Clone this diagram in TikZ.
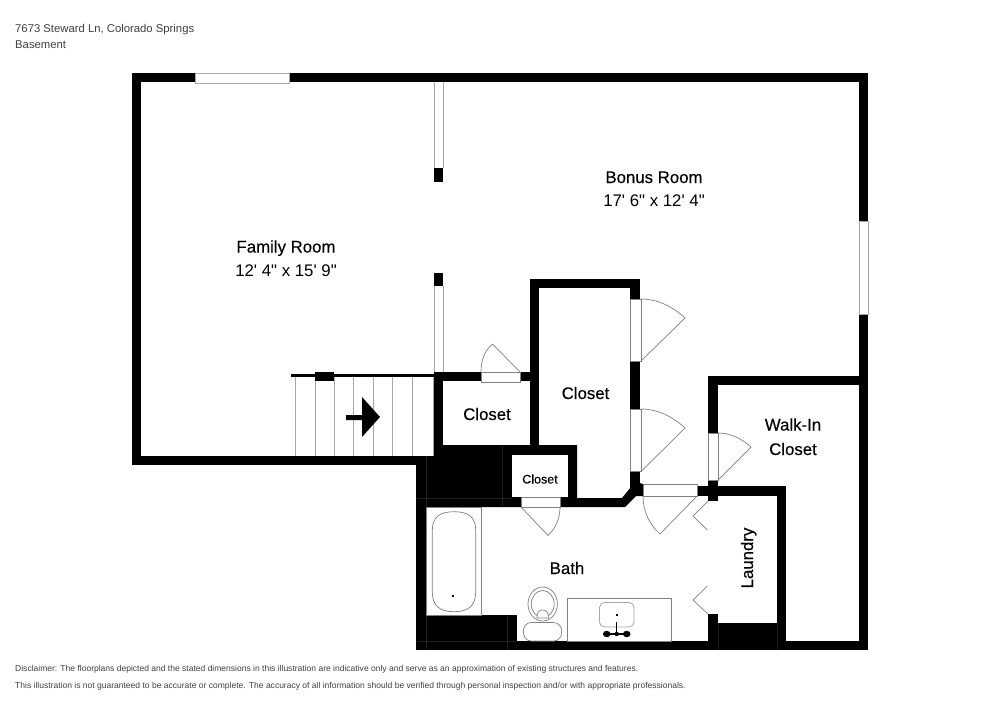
\documentclass[tikz,border=0pt]{standalone}
\usepackage{fontspec}
\newfontfamily\plainsans{Liberation Sans}
\newfontfamily\roomsans{Liberation Sans}[FakeBold=0.2]
\definecolor{doorgray}{gray}{0.5}
\definecolor{lightgray2}{gray}{0.65}
\definecolor{seam}{gray}{0.13}
\tikzset{
  wall/.style={fill=black,draw=none},
  seamline/.style={draw=seam,line width=0.3pt},
  doorleaf/.style={fill=white,draw=doorgray,line width=0.8pt},
  swing/.style={draw=doorgray,line width=0.7pt},
  glass/.style={fill=white,draw=lightgray2,line width=1pt},
  fixture/.style={draw=doorgray,line width=0.7pt,fill=white},
  tread/.style={draw=lightgray2,line width=1pt},
  room/.style={font=\roomsans\fontsize{16.8}{19}\selectfont,text=black,inner sep=0pt,anchor=base},
  dims/.style={font=\plainsans\fontsize{16.8}{19}\selectfont,text=black,inner sep=0pt,anchor=base},
  roomsmall/.style={font=\roomsans\fontsize{12.5}{15}\selectfont,text=black,inner sep=0pt,anchor=base},
  small/.style={font=\plainsans\fontsize{11.3}{13}\selectfont,text=black!75,inner sep=0pt,anchor=base west},
  fine/.style={font=\plainsans\fontsize{8.52}{11}\selectfont,text=black!75,inner sep=0pt,anchor=base west}
}
\begin{document}
\begin{tikzpicture}[x=1pt,y=-1pt]
\useasboundingbox (0,0) rectangle (1000,707);
\fill[white] (0,0) rectangle (1000,707);
% outer and main walls
\path[wall] (132,73) rectangle (868,82);
\path[wall] (132,73) rectangle (141,465);
\path[wall] (132,456) rectangle (443,465);
\path[wall] (859,73) rectangle (868,650);
\path[wall] (416,641) rectangle (868,650);
\path[wall] (416,456) rectangle (426,650);
% closets
\path[wall] (434,372) rectangle (443,465);
\path[wall] (434,372) rectangle (539,381);
\path[wall] (530,279) rectangle (539,456);
\path[wall] (530,279) rectangle (640,288);
\path[wall] (630,279) rectangle (640,488);
\path[wall] (443,445) -- (577,445) -- (577,498) -- (622,498) -- (631,487) -- (640,483) -- (643,484) -- (643,496) -- (636,496) -- (625,507) -- (416,507) -- (416,456) -- (443,456) -- cycle;
\fill[white] (512,455) rectangle (568,497);
% walk-in, laundry
\path[wall] (708,376) rectangle (868,385);
\path[wall] (708,376) rectangle (718,501);
\path[wall] (697,486) rectangle (786,496);
\path[wall] (777,486) rectangle (786,650);
\path[wall] (708,614) rectangle (718,650);
\path[wall] (708,623) rectangle (786,650);
\path[wall] (416,615) rectangle (517,650);
\path[wall] (434,168) rectangle (443,182);
\path[wall] (434,273) rectangle (443,286);
% faint joints inside the solid wall blocks
\draw[seamline] (417,498) -- (512,498) (426,457) -- (426,506) (502,446) -- (502,506);
\draw[seamline] (417,641) -- (516,641) (426,616) -- (426,649) (507,616) -- (507,649);
\draw[seamline] (718,624) -- (718,649) (777,624) -- (777,649);
% windows and openings
\path[glass] (195,73) rectangle (289,83);
\path[glass] (859,221) rectangle (868,314);
\draw[tread] (434,82) -- (434,168) (443,82) -- (443,168);
\draw[tread] (434,286) -- (434,372) (443,286) -- (443,372);
% doors
\path[doorleaf] (481,372) rectangle (520,382);
\path[swing] (520,372) -- (492.5,344) .. controls (484,351) and (481,361) .. (481,372);
\path[doorleaf] (630,299) rectangle (641,361);
\path[swing] (641,361) -- (685,318) .. controls (672,306) and (657,299) .. (641,299);
\path[doorleaf] (630,409) rectangle (641,471.5);
\path[swing] (641,471.5) -- (685,428) .. controls (672,416) and (657,409) .. (641,409);
\path[doorleaf] (708,433) rectangle (718,480);
\path[swing] (718,480) -- (751,447) .. controls (741,438) and (730,433) .. (718,433);
\path[doorleaf] (643,484) rectangle (697,496);
\path[swing] (697,496) -- (660,534) .. controls (649,524) and (643,511) .. (643,496);
\path[doorleaf] (521,497) rectangle (560,507);
\path[swing] (521,507) -- (548,535.5) .. controls (556,528) and (560,518) .. (560,507);
\path[swing] (708,501) -- (693,516) -- (707.5,530);
\path[swing] (707.5,586) -- (693,600) -- (708,614);
% stair
\foreach \sx in {295.5,315,334,353.5,373,392.5,412,433} {\draw[tread] (\sx,376) -- (\sx,456);}
\draw[black,line width=2.2pt] (291,375.5) -- (434,375.5);
\path[wall] (315,371.5) rectangle (334,381);
\path[wall] (346,415) -- (362,415) -- (362,397) -- (380,417) -- (362,437) -- (362,420) -- (346,420) -- cycle;
% tub
\path[fixture] (426,507) rectangle (481,615);
\path[fixture] (432.3,530) .. controls (432.3,517) and (440,511.7) .. (454,511.7) .. controls (468,511.7) and (475.7,517) .. (475.7,530) -- (475.7,592) .. controls (475.7,606) and (468,611.7) .. (454,611.7) .. controls (440,611.7) and (432.3,606) .. (432.3,592) -- cycle;
\fill[black] (453,596) circle (1.4);
% toilet
\path[fixture] (542.7,604) ellipse (14.7 and 17);
\path[fixture] (542.7,604) ellipse (11.5 and 13.5);
\path[fixture] (537,618) .. controls (537,612) and (539,610) .. (542.7,610) .. controls (546,610) and (548.5,612) .. (548.5,618) -- cycle;
\path[fixture] (532,622.5) -- (553,622.5) .. controls (565,622) and (564,641) .. (554,641) -- (531,641) .. controls (521,641) and (520,622) .. (532,622.5) -- cycle;
% vanity
\path[fixture] (567.7,598) rectangle (671,641);
\path[fill=white,draw=lightgray2,line width=0.8pt,rounded corners=5pt] (599.5,602.5) rectangle (634,627);
\fill[black] (615.5,613.5) rectangle (618,616);
\draw[black,line width=1.2pt] (616.7,622) -- (616.7,634) (606.7,634) -- (626.7,634);
\fill[black] (606.7,634) ellipse (3.8 and 3.2) (626.7,634) ellipse (3.8 and 3.2) (616.7,634) circle (2.2);
% labels
\node[room] (family) at (286,252.5) {Family Room};
\node[dims] (familydim) at (286,276.5) {12' 4" x 15' 9"};
\node[room] (bonus) at (654,183) {Bonus Room};
\node[dims] (bonusdim) at (654,206.5) {17' 6" x 12' 4"};
\node[room] (closetA) at (585.5,399) {Closet};
\node[room] (closetB) at (487,420) {Closet};
\node[roomsmall] (closetC) at (540,483.5) {Closet};
\node[room] (walkin) at (793,430.5) {Walk-In};
\node[room] (walkin2) at (793,455) {Closet};
\node[room] (bath) at (567,574) {Bath};
\node[room,rotate=90] (laundry) at (753,558) {Laundry};
\node[small] (addr) at (15,32) {7673 Steward Ln, Colorado Springs};
\node[small] (level) at (15,48) {Basement};
\node[fine] (disc1) at (15,671.7) {Disclaimer: The floorplans depicted and the stated dimensions in this illustration are indicative only and serve as an approximation of existing structures and features.};
\node[fine] (disc2) at (15,688.7) {This illustration is not guaranteed to be accurate or complete. The accuracy of all information should be verified through personal inspection and/or with appropriate professionals.};
\end{tikzpicture}
\end{document}
